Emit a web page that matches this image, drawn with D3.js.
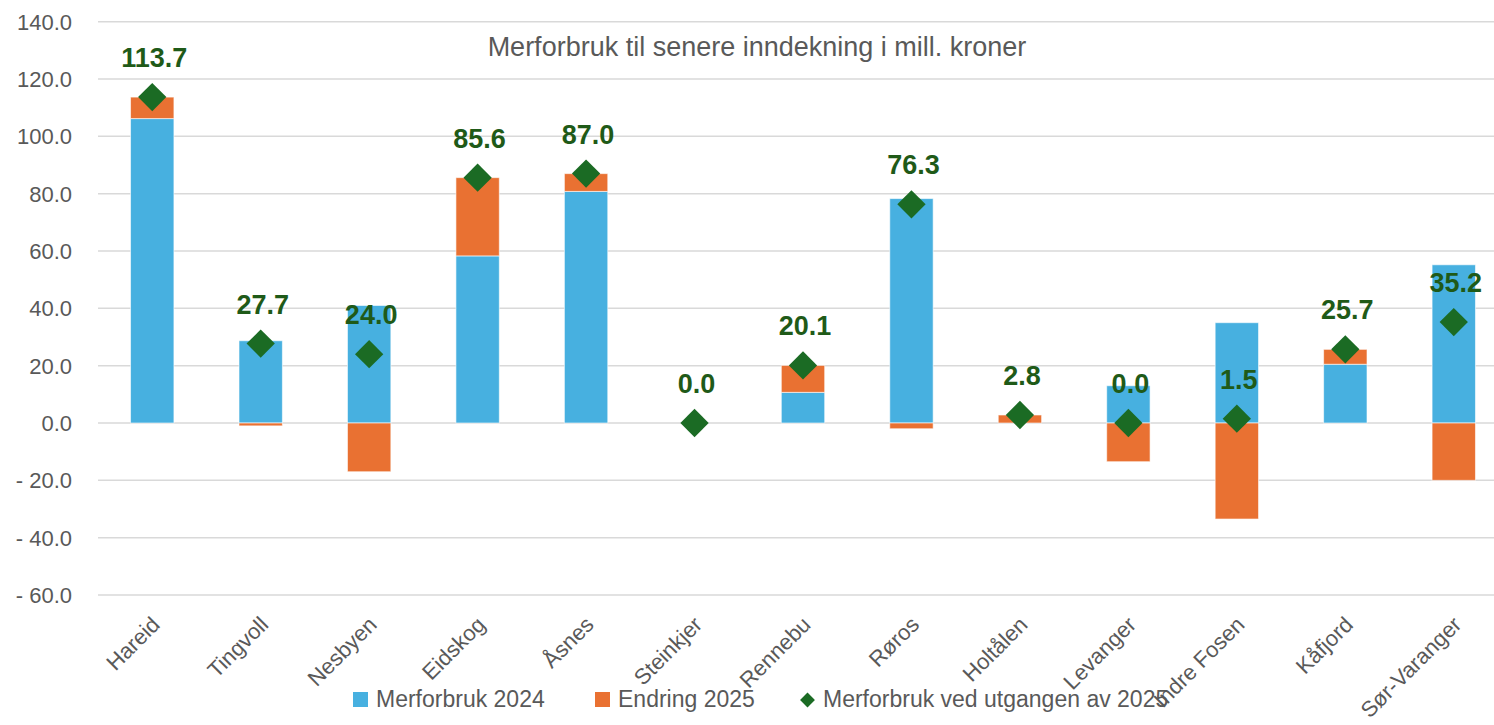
<!DOCTYPE html>
<html>
<head>
<meta charset="utf-8">
<script src="https://cdn.jsdelivr.net/npm/d3@7"></script>
<style>
  body { margin: 0; background: #fff; }
  svg { display: block; font-family: "Liberation Sans", Arial, sans-serif; }
</style>
</head>
<body>
<svg id="chart" width="1494" height="725"></svg>
<script>
// chart data
const kommuner = ["Hareid", "Tingvoll", "Nesbyen", "Eidskog", "Åsnes", "Steinkjer", "Rennebu",
  "Røros", "Holtålen", "Levanger", "Indre Fosen", "Kåfjord", "Sør-Varanger"];
const merforbruk2024 = [106.2, 28.7, 41.0, 58.3, 80.8, 0.0, 10.7, 78.3, 0.0, 13.0, 35.0, 20.5, 55.2];
const endring2025 = [7.5, -1.0, -17.0, 27.3, 6.2, 0.0, 9.4, -2.0, 2.8, -13.5, -33.5, 5.2, -20.0];
const utgang2025 = [113.7, 27.7, 24.0, 85.6, 87.0, 0.0, 20.1, 76.3, 2.8, 0.0, 1.5, 25.7, 35.2];
const yTicks = [-60, -40, -20, 0, 20, 40, 60, 80, 100, 120, 140];

const title = "Merforbruk til senere inndekning i mill. kroner";
const seriesNames = ["Merforbruk 2024", "Endring 2025", "Merforbruk ved utgangen av 2025"];

// colours
const BLUE = '#47B0E0';
const ORANGE = '#E97132';
const GREEN = '#1B6B24';
const LABEL_GREEN = '#1F5A18';
const GREY = '#595959';
const GRID = '#D9D9D9';

// layout
const plotLeft = 98, plotRight = 1508, plotTop = 21.7, plotBottom = 595;

const svg = d3.select('#chart');

const x = d3.scaleBand()
  .domain(kommuner)
  .range([plotLeft, plotRight])
  .paddingInner(0.6)
  .paddingOuter(0.3);

const y = d3.scaleLinear()
  .domain([-60, 140])
  .range([plotBottom, plotTop]);

// gridlines
svg.append('g')
  .selectAll('line')
  .data(yTicks)
  .join('line')
  .attr('x1', plotLeft)
  .attr('x2', 1494)
  .attr('y1', d => y(d))
  .attr('y2', d => y(d))
  .attr('stroke', GRID)
  .attr('stroke-width', 1.5);

// y axis labels
const fmt = d => (d < 0 ? '- ' : '') + Math.abs(d).toFixed(1);
svg.append('g')
  .selectAll('text')
  .data(yTicks)
  .join('text')
  .attr('x', 72)
  .attr('y', d => y(d))
  .attr('dy', '0.36em')
  .attr('text-anchor', 'end')
  .attr('fill', GREY)
  .style('font-size', '22px')
  .text(fmt);

// title
svg.append('text')
  .attr('x', 757)
  .attr('y', 56)
  .attr('text-anchor', 'middle')
  .attr('fill', GREY)
  .style('font-size', '27px')
  .text(title);

// stacked bars (positives and negatives stacked separately, like Excel)
const rows = kommuner.map((k, i) => ({ k, a: merforbruk2024[i], b: endring2025[i] }));
const stack = d3.stack().keys(['a', 'b']).offset(d3.stackOffsetDiverging);
const layers = stack(rows);
const colors = { a: BLUE, b: ORANGE };

svg.append('g')
  .selectAll('g')
  .data(layers)
  .join('g')
  .attr('fill', d => colors[d.key])
  .selectAll('rect')
  .data(d => d)
  .join('rect')
  .attr('x', d => x(d.data.k))
  .attr('width', x.bandwidth())
  .attr('y', d => y(Math.max(d[0], d[1])))
  .attr('height', d => Math.abs(y(d[0]) - y(d[1])))
  .attr('stroke', '#ffffff')
  .attr('stroke-opacity', 0.6)
  .attr('stroke-width', 1);

// diamonds for end-of-2025
const diamond = d3.symbol(d3.symbolSquare, 400);
svg.append('g')
  .selectAll('path')
  .data(utgang2025)
  .join('path')
  .attr('d', diamond)
  .attr('transform', (d, i) => `translate(${x(kommuner[i]) + x.bandwidth() / 2},${y(d)}) rotate(45)`)
  .attr('fill', GREEN);

// data labels
svg.append('g')
  .selectAll('text')
  .data(utgang2025)
  .join('text')
  .attr('x', (d, i) => x(kommuner[i]) + x.bandwidth() / 2 + 2)
  .attr('y', d => y(d) - 30)
  .attr('text-anchor', 'middle')
  .attr('fill', LABEL_GREEN)
  .style('font-size', '27px')
  .style('font-weight', 'bold')
  .text(d => d.toFixed(1));

// category labels, rotated
svg.append('g')
  .selectAll('text')
  .data(kommuner)
  .join('text')
  .attr('transform', d => `translate(${x(d) + x.bandwidth() / 2 + 9},${626}) rotate(-45)`)
  .attr('text-anchor', 'end')
  .attr('fill', GREY)
  .style('font-size', '22px')
  .text(d => d);

// legend
const legend = svg.append('g').style('font-size', '23px').attr('fill', GREY);
const legendX = [353, 595, 800];

legend.append('rect').attr('x', legendX[0]).attr('y', 692).attr('width', 15).attr('height', 15).attr('fill', BLUE);
legend.append('rect').attr('x', legendX[1]).attr('y', 692).attr('width', 15).attr('height', 15).attr('fill', ORANGE);
legend.append('path')
  .attr('d', d3.symbol(d3.symbolSquare, 110))
  .attr('transform', `translate(${legendX[2] + 7.5},700) rotate(45)`)
  .attr('fill', GREEN);

legend.selectAll('text')
  .data(seriesNames)
  .join('text')
  .attr('x', (d, i) => legendX[i] + 23)
  .attr('y', 707)
  .text(d => d);
</script>
</body>
</html>
